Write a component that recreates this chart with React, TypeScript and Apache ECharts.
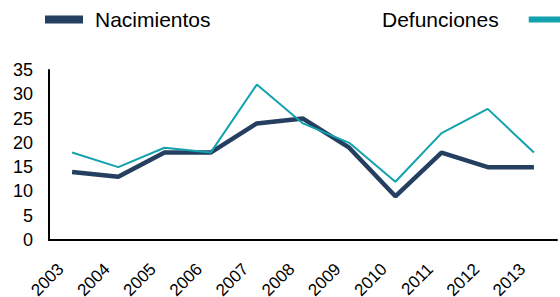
import React, { useEffect, useRef } from "react";
import * as echarts from "echarts";

const years = ["2003", "2004", "2005", "2006", "2007", "2008", "2009", "2010", "2011", "2012", "2013"];
const nacimientos = [14, 13, 18, 18, 24, 25, 19, 9, 18, 15, 15];
const defunciones = [18, 15, 19, 18, 32, 24, 20, 12, 22, 27, 18];
const yTicks = { min: 0, max: 35, interval: 5 };

const NAC_COLOR = "#243f60";
const DEF_COLOR = "#12a2ae";
const FONT = "Liberation Sans, Arial, sans-serif";

export default function App() {
  const ref = useRef<HTMLDivElement>(null);
  useEffect(() => {
    if (!ref.current) return;
    const chart = echarts.init(ref.current, null, { renderer: "svg" });
    chart.setOption({
      animation: false,
      backgroundColor: "#fff",
      textStyle: { fontFamily: FONT },
      legend: [
        {
          left: 45,
          top: 9,
          padding: 0,
          icon: "rect",
          itemWidth: 38,
          itemHeight: 8,
          data: ["Nacimientos"],
          textStyle: { fontSize: 21, color: "#000", fontFamily: FONT, padding: [0, 0, 7, 7] },
        },
        {
          left: 382,
          top: 9,
          padding: 0,
          align: "right",
          icon: "rect",
          itemWidth: 40,
          itemHeight: 6,
          data: ["Defunciones"],
          textStyle: { fontSize: 21, color: "#000", fontFamily: FONT, padding: [0, 25, 7, 0] },
        },
      ],
      grid: { left: 49, top: 70, right: 3, bottom: 57, containLabel: false, outerBoundsMode: "none" },
      xAxis: {
        type: "category",
        data: years,
        boundaryGap: true,
        axisLine: { show: true, lineStyle: { color: "#000", width: 2 } },
        axisTick: { show: false },
        axisLabel: {
          rotate: 45,
          margin: 15,
          padding: [0, 16, 0, 0],
          fontSize: 17,
          color: "#000",
          fontFamily: FONT,
          interval: 0,
        },
      },
      yAxis: {
        type: "value",
        min: yTicks.min,
        max: yTicks.max,
        interval: yTicks.interval,
        axisLine: { show: true, lineStyle: { color: "#000", width: 2 } },
        axisTick: { show: false },
        splitLine: { show: false },
        axisLabel: { margin: 16, fontSize: 18, color: "#000", fontFamily: FONT },
      },
      series: [
        {
          name: "Nacimientos",
          type: "line",
          data: nacimientos,
          symbol: "none",
          color: NAC_COLOR,
          lineStyle: { color: NAC_COLOR, width: 4.5 },
          z: 2,
        },
        {
          name: "Defunciones",
          type: "line",
          data: defunciones,
          symbol: "none",
          color: DEF_COLOR,
          lineStyle: { color: DEF_COLOR, width: 2 },
          z: 3,
        },
      ],
    });
    return () => chart.dispose();
  }, []);
  return <div ref={ref} style={{ width: 560, height: 297, position: "absolute", left: 0, top: 0 }} />;
}
